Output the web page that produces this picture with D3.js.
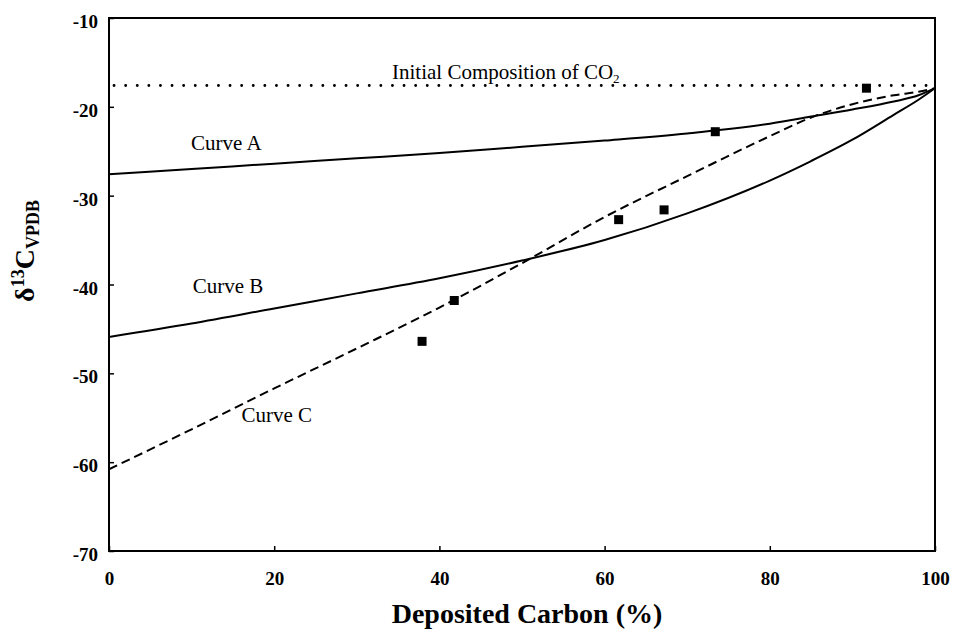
<!DOCTYPE html>
<meta charset="utf-8">
<style>
    body { margin: 0; background: #fff; }
    svg text { font-family: "Liberation Serif", "Times New Roman", serif; fill: #000; }
    .axis text { font-size: 19px; font-weight: bold; font-family: "Liberation Serif", serif; }
    .axis line { stroke: #000; stroke-width: 1.5px; }
    .axis path { display: none; }
    .curve { fill: none; stroke: #000; stroke-width: 2px; }
</style>
<svg width="953" height="634"></svg>
<script src="https://d3js.org/d3.v7.min.js"></script>
<script>

    var pctGrid = [0, 10, 20, 30, 40, 50, 60, 70, 80, 85, 90, 95, 98, 100];

    // d13C values of each model curve on pctGrid
    var curveA = [-27.6, -27.0, -26.4, -25.8, -25.2, -24.5, -23.8, -23.0, -21.9, -21.1, -20.3, -19.4, -18.7, -17.9];
    var curveB = [-45.9, -44.4, -42.7, -41.0, -39.3, -37.3, -35.0, -32.0, -28.3, -26.1, -23.7, -20.9, -19.2, -17.9];
    var curveC = [-60.8, -56.3, -51.7, -47.2, -42.6, -37.6, -32.4, -27.8, -23.3, -21.2, -19.7, -18.7, -18.3, -17.9];

    // measured samples
    var samplePct = [37.9, 41.8, 61.7, 67.2, 73.4, 91.7];
    var sampleD13C = [-46.4, -41.8, -32.7, -31.6, -22.8, -17.9];

    var initialCO2 = -17.6;

    var xTicks = [0, 20, 40, 60, 80, 100];
    var yTicks = [-70, -60, -50, -40, -30, -20, -10];

    var curveLabels = [
        {text: "Curve A", pct: 14.2, val: -24.9},
        {text: "Curve B", pct: 14.4, val: -41.0},
        {text: "Curve C", pct: 20.3, val: -55.5}
    ];

    var svg = d3.select("svg"),
        plotL = 109, plotR = 935, plotT = 18, plotB = 551;

    var x = d3.scaleLinear().domain([0, 100]).range([plotL, plotR]);
    var y = d3.scaleLinear().domain([-70, -10]).range([plotB, plotT]);

    // plain hyphen for negatives, as in the original
    var fmt = function(d) { return String(d); };

    // axes, ticks pointing inwards
    svg.append("g")
        .attr("class", "axis")
        .attr("transform", "translate(0," + plotB + ")")
        .call(d3.axisBottom(x).tickValues(xTicks).tickSize(-5).tickPadding(21).tickFormat(fmt));

    svg.append("g")
        .attr("class", "axis")
        .attr("transform", "translate(" + plotL + ",0)")
        .call(d3.axisLeft(y).tickValues(yTicks).tickSize(-5).tickPadding(11).tickFormat(fmt))
        .selectAll("text").attr("dy", "0.5em");

    // frame
    svg.append("rect")
        .attr("x", plotL).attr("y", plotT)
        .attr("width", plotR - plotL).attr("height", plotB - plotT)
        .attr("fill", "none").attr("stroke", "#000").attr("stroke-width", 2);

    // initial composition line
    svg.append("line")
        .attr("x1", x(0) + 5).attr("x2", x(100))
        .attr("y1", y(initialCO2)).attr("y2", y(initialCO2))
        .attr("stroke", "#000").attr("stroke-width", 2.8)
        .attr("stroke-linecap", "round")
        .attr("stroke-dasharray", "0.1,11.5");

    var ic = svg.append("text")
        .attr("x", 392).attr("y", y(initialCO2) - 7)
        .attr("font-size", 21);
    ic.append("tspan").text("Initial Composition of CO");
    ic.append("tspan").attr("font-size", 13).attr("dy", 4).text("2");

    var line = d3.line()
        .x(function(d) { return x(d[0]); })
        .y(function(d) { return y(d[1]); })
        .curve(d3.curveMonotoneX);

    [curveA, curveB, curveC].forEach(function(vals, i) {
        svg.append("path")
            .attr("class", "curve")
            .attr("d", line(d3.zip(pctGrid, vals)))
            .attr("stroke-dasharray", i == 2 ? "9,5" : null);
    });

    curveLabels.forEach(function(d) {
        svg.append("text")
            .attr("x", x(d.pct)).attr("y", y(d.val))
            .attr("text-anchor", "middle")
            .attr("font-size", 21)
            .text(d.text);
    });

    // sample squares
    var sq = 9;
    svg.append("g")
        .selectAll("rect")
        .data(d3.zip(samplePct, sampleD13C))
        .enter().append("rect")
        .attr("x", function(d) { return x(d[0]) - sq / 2; })
        .attr("y", function(d) { return y(d[1]) - sq / 2; })
        .attr("width", sq).attr("height", sq)
        .attr("fill", "#000");

    // axis titles
    svg.append("text")
        .attr("x", (plotL + plotR) / 2 + 5).attr("y", 623)
        .attr("text-anchor", "middle")
        .attr("font-size", 28).attr("font-weight", "bold")
        .text("Deposited Carbon (%)");

    var yl = svg.append("text")
        .attr("transform", "translate(34,251) rotate(-90)")
        .attr("text-anchor", "middle")
        .attr("font-size", 28).attr("font-weight", "bold");
    yl.append("tspan").text("\u03b4");
    yl.append("tspan").attr("font-size", 18).attr("dy", -10).text("13");
    yl.append("tspan").attr("dy", 10).text("C");
    yl.append("tspan").attr("font-size", 18).attr("dy", 5).text("VPDB");

</script>
